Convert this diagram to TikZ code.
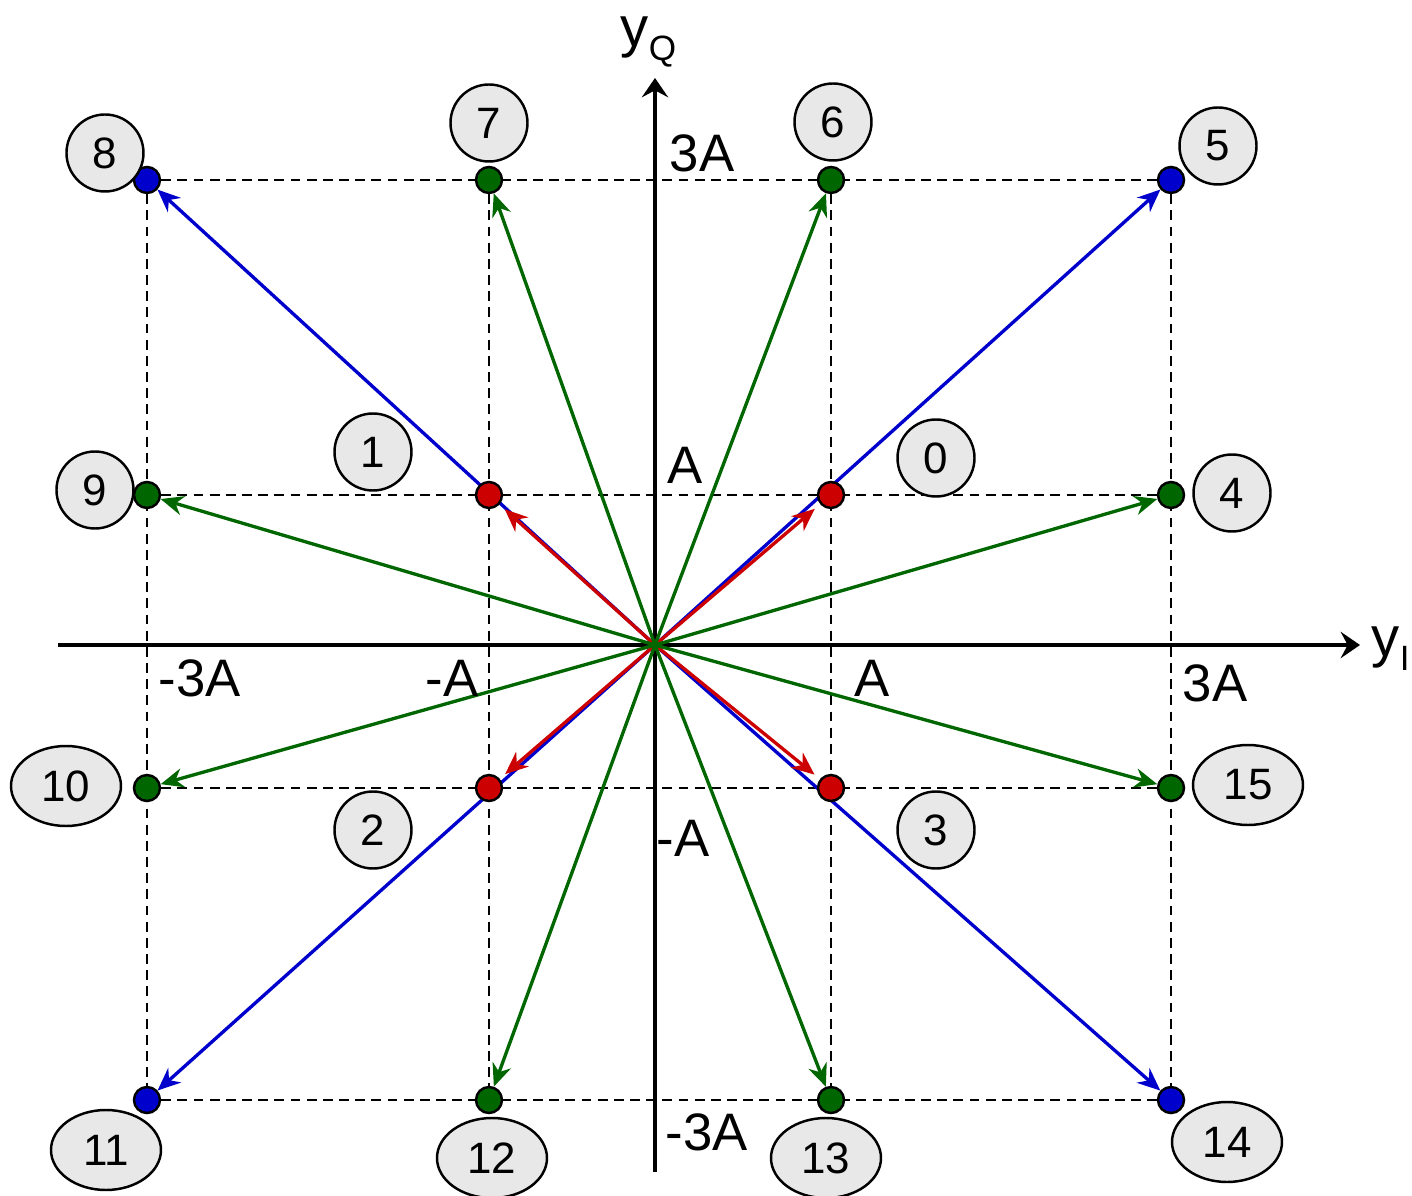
\documentclass[tikz,border=0pt]{standalone}
\usepackage{fontspec}
\setmainfont{Liberation Sans}
\usepackage{xcolor}
\usetikzlibrary{arrows.meta,positioning,shapes.geometric,backgrounds}
\definecolor{ptblue}{HTML}{0000CC}
\definecolor{ptgreen}{HTML}{006600}
\definecolor{ptred}{HTML}{CC0000}
\definecolor{tagfill}{HTML}{E8E8E8}

\begin{document}
\begin{tikzpicture}[
  dot/.style={circle, draw, line width=0.7pt, inner sep=0pt, minimum size=0.26cm},
  tag/.style={ellipse, draw, line width=0.7pt, fill=tagfill, inner sep=0pt, minimum width=0.77cm, minimum height=0.77cm, font=\fontsize{12.5}{14}\selectfont},
  widetag/.style={tag, minimum width=1.1cm, minimum height=0.8cm},
  axis/.style={-{Stealth[length=5.5pt,width=7.5pt,inset=2pt]}, line width=1.1pt},
  dashline/.style={dash pattern=on 2.8pt off 1.8pt, line width=0.75pt},
  vec/.style={-{Stealth[length=6.5pt,width=5.5pt]}, line width=0.95pt},
  axlbl/.style={font=\fontsize{15}{18}\selectfont, inner sep=0pt}
]
\useasboundingbox (-6.55,-5.5) rectangle (7.57,6.45);

\coordinate (O) at (0,0);
\coordinate (xs) at (-5.97,0);
\coordinate (xe) at (7.05,0);
\coordinate (ys) at (0,-5.27);
\coordinate (ye) at (0,5.67);

\node[dot, fill=ptblue] (d8) at (-5.08,4.65) {};
\node[dot, fill=ptgreen] (d7) at (-1.66,4.65) {};
\node[dot, fill=ptgreen] (d6) at (1.76,4.65) {};
\node[dot, fill=ptblue] (d5) at (5.16,4.65) {};
\node[dot, fill=ptgreen] (d9) at (-5.08,1.5) {};
\node[dot, fill=ptred] (d1) at (-1.66,1.5) {};
\node[dot, fill=ptred] (d0) at (1.76,1.5) {};
\node[dot, fill=ptgreen] (d4) at (5.16,1.5) {};
\node[dot, fill=ptgreen] (d10) at (-5.08,-1.43) {};
\node[dot, fill=ptred] (d2) at (-1.66,-1.43) {};
\node[dot, fill=ptred] (d3) at (1.76,-1.43) {};
\node[dot, fill=ptgreen] (d15) at (5.16,-1.43) {};
\node[dot, fill=ptblue] (d11) at (-5.08,-4.55) {};
\node[dot, fill=ptgreen] (d12) at (-1.66,-4.55) {};
\node[dot, fill=ptgreen] (d13) at (1.76,-4.55) {};
\node[dot, fill=ptblue] (d14) at (5.16,-4.55) {};

\node[tag] (t8) at (-5.5,4.92) {8};
\node[tag] (t7) at (-1.66,5.22) {7};
\node[tag] (t6) at (1.78,5.23) {6};
\node[tag] (t5) at (5.63,4.99) {5};
\node[tag] (t1) at (-2.82,1.93) {1};
\node[tag] (t0) at (2.81,1.87) {0};
\node[tag] (t9) at (-5.6,1.55) {9};
\node[tag] (t4) at (5.77,1.52) {4};
\node[tag] (t2) at (-2.82,-1.85) {2};
\node[tag] (t3) at (2.81,-1.85) {3};
\node[widetag] (t10) at (-5.89,-1.41) {10};
\node[widetag] (t15) at (5.93,-1.40) {15};
\node[widetag] (t11) at (-5.49,-5.05) {11};
\node[widetag] (t12) at (-1.63,-5.13) {12};
\node[widetag] (t13) at (1.71,-5.13) {13};
\node[widetag] (t14) at (5.72,-4.97) {14};

\node[font=\fontsize{16}{18}\selectfont, inner sep=0pt, anchor=base west] (yq) at (-0.35,5.98) {y\raisebox{-0.45ex}{\fontsize{10}{11}\selectfont Q}};
\node[font=\fontsize{16}{18}\selectfont, inner sep=0pt, anchor=base west] (yi) at (7.16,-0.12) {y\raisebox{-0.45ex}{\fontsize{10}{11}\selectfont I}};

\node[axlbl] (q3) at (0.47,4.92) {3A};
\node[axlbl] (q1) at (0.3,1.8) {A};
\node[axlbl] (qm1) at (0.28,-1.93) {-A};
\node[axlbl] (qm3) at (0.52,-4.87) {-3A};
\node[axlbl] (im3) at (-4.55,-0.33) {-3A};
\node[axlbl] (im1) at (-2.03,-0.33) {-A};
\node[axlbl] (i1) at (2.17,-0.33) {A};
\node[axlbl] (i3) at (5.6,-0.38) {3A};

\begin{scope}[on background layer]
\draw[dashline] (d8) -- (d5);
\draw[dashline] (d9) -- (d4);
\draw[dashline] (d10) -- (d15);
\draw[dashline] (d11) -- (d14);
\draw[dashline] (d8) -- (d11);
\draw[dashline] (d7) -- (d12);
\draw[dashline] (d6) -- (d13);
\draw[dashline] (d5) -- (d14);

\draw[axis] (xs) -- (xe);
\draw[axis] (ys) -- (ye);

\draw[vec, ptblue] (O) -- (d5);
\draw[vec, ptblue] (O) -- (d8);
\draw[vec, ptblue] (O) -- (d11);
\draw[vec, ptblue] (O) -- (d14);

\draw[vec, ptred, shorten >=2pt] (O) -- (d0);
\draw[vec, ptred, shorten >=2pt] (O) -- (d1);
\draw[vec, ptred, shorten >=2pt] (O) -- (d2);
\draw[vec, ptred, shorten >=2pt] (O) -- (d3);

\draw[vec, ptgreen] (O) -- (d4);
\draw[vec, ptgreen] (O) -- (d6);
\draw[vec, ptgreen] (O) -- (d7);
\draw[vec, ptgreen] (O) -- (d9);
\draw[vec, ptgreen] (O) -- (d10);
\draw[vec, ptgreen] (O) -- (d12);
\draw[vec, ptgreen] (O) -- (d13);
\draw[vec, ptgreen] (O) -- (d15);
\end{scope}
\end{tikzpicture}
\end{document}
